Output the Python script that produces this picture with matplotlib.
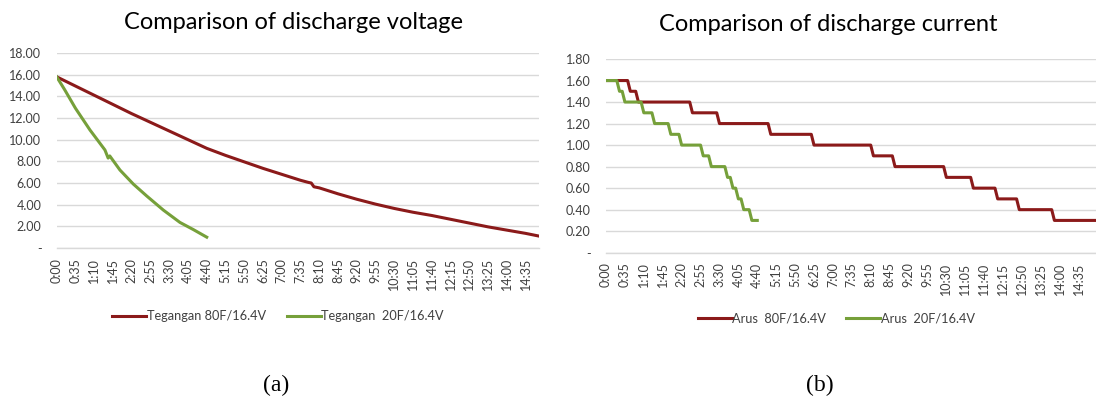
import matplotlib.pyplot as plt
from matplotlib.ticker import FuncFormatter

# ---- data (time in seconds) ----
v80_t = [0, 35, 70, 105, 140, 175, 210, 245, 280, 315, 350, 385, 420, 455, 470, 475, 480,
         490, 525, 560, 595, 630, 665, 700, 735, 770, 805, 840, 875, 900]
v80 = [15.8, 14.95, 14.1, 13.25, 12.4, 11.6, 10.8, 10.0, 9.2, 8.55, 7.95, 7.35, 6.8, 6.25,
       6.05, 6.0, 5.65, 5.55, 5.0, 4.5, 4.05, 3.65, 3.3, 3.0, 2.65, 2.3, 1.95, 1.65, 1.35, 1.1]

v20_t = [0, 15, 35, 62, 90, 96, 99, 118, 143, 168, 199, 230, 255, 280]
v20 = [15.8, 14.6, 12.9, 10.9, 9.05, 8.3, 8.5, 7.2, 5.9, 4.8, 3.5, 2.36, 1.7, 1.0]

i80_t = [0, 40, 45, 55, 60, 155, 160, 205, 210, 300, 305, 380, 385, 490, 495, 530, 535, 625,
         630, 675, 680, 720, 725, 760, 765, 825, 830, 907]
i80 = [1.6, 1.6, 1.5, 1.5, 1.4, 1.4, 1.3, 1.3, 1.2, 1.2, 1.1, 1.1, 1.0, 1.0, 0.9, 0.9, 0.8, 0.8,
       0.7, 0.7, 0.6, 0.6, 0.5, 0.5, 0.4, 0.4, 0.3, 0.3]

i20_t = [0, 20, 25, 30, 35, 65, 70, 85, 90, 115, 120, 135, 140, 175, 180, 190, 195, 220, 225,
         230, 235, 240, 245, 250, 255, 265, 270, 280]
i20 = [1.6, 1.6, 1.5, 1.5, 1.4, 1.4, 1.3, 1.3, 1.2, 1.2, 1.1, 1.1, 1.0, 1.0, 0.9, 0.9, 0.8, 0.8,
       0.7, 0.7, 0.6, 0.6, 0.5, 0.5, 0.4, 0.4, 0.3, 0.3]

tick_secs = list(range(0, 876, 35))
tick_labels = ['%d:%02d' % (s // 60, s % 60) for s in tick_secs]

RED = '#8B1A1A'
GREEN = '#76A03A'
GRID = '#D9D9D9'
TXT = '#404040'
FONT = 'Lato'

plt.rcParams['font.family'] = [FONT, 'DejaVu Sans']

fig = plt.figure(figsize=(10.96, 4.09), dpi=100)
axL = fig.add_axes([56.7 / 1096, 1 - 248 / 409, (539 - 56.7) / 1096, (248 - 53) / 409])
axR = fig.add_axes([606 / 1096, 1 - 252.7 / 409, (1096 - 606) / 1096, (252.7 - 59) / 409])


def style(ax, ymax, step, xmax):
    ax.set_xlim(0, xmax)
    ax.set_ylim(0, ymax)
    yt = [step * k for k in range(int(round(ymax / step)) + 1)]
    ax.set_yticks(yt)
    ax.yaxis.set_major_formatter(FuncFormatter(lambda v, p: '-' if abs(v) < 1e-9 else '%.2f' % v))
    ax.set_xticks(tick_secs)
    ax.set_xticklabels(tick_labels, rotation=90)
    ax.grid(axis='y', color=GRID, lw=1.0)
    ax.set_axisbelow(True)
    for s in ['top', 'right', 'left']:
        ax.spines[s].set_visible(False)
    ax.spines['bottom'].set_color(GRID)
    ax.spines['bottom'].set_linewidth(1.0)
    ax.tick_params(length=0, labelsize=9, colors=TXT)
    ax.tick_params(axis='y', pad=11)
    ax.tick_params(axis='x', pad=7)


leg_kw = dict(ncol=2, frameon=False, fontsize=9.2, handlelength=2.65, handletextpad=0.05,
              labelcolor=TXT, borderaxespad=0)

axL.plot(v80_t, v80, color=RED, lw=2.2, label='Tegangan 80F/16.4V')
axL.plot(v20_t, v20, color=GREEN, lw=2.2, label='Tegangan  20F/16.4V')
style(axL, 18, 2, 900)
axL.set_title('Comparison of discharge voltage', fontsize=17, color='black', pad=17,
              x=(294 - 56.7) / 482.3)
axL.legend(loc='center', bbox_to_anchor=(0.459, -0.35), columnspacing=1.65, **leg_kw)

axR.plot(i80_t, i80, color=RED, lw=2.2, label='Arus  80F/16.4V')
axR.plot(i20_t, i20, color=GREEN, lw=2.2, label='Arus  20F/16.4V')
style(axR, 1.8, 0.2, 907)
axR.set_title('Comparison of discharge current', fontsize=17, color='black', pad=20,
              x=(828.5 - 606) / 490)
axR.legend(loc='center', bbox_to_anchor=(0.470, -0.34), columnspacing=1.55, **leg_kw)

fig.text(276 / 1096, 1 - 385 / 409, '(a)', family='Liberation Serif', fontsize=17,
         ha='center', va='center')
fig.text(820 / 1096, 1 - 385 / 409, '(b)', family='Liberation Serif', fontsize=17,
         ha='center', va='center')

fig.savefig('out.png', dpi=100)
